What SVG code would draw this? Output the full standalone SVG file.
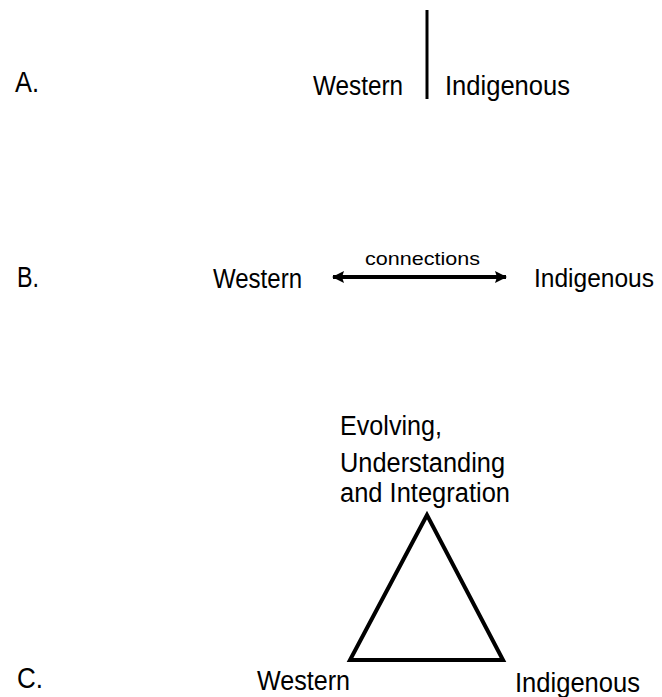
<svg xmlns="http://www.w3.org/2000/svg" width="662" height="697" viewBox="0 0 662 697">
  <style>
    .t { font-family: "Liberation Sans", Arial, sans-serif; font-size: 27px; fill: #000; }
    .lbl { font-family: "Liberation Sans", Arial, sans-serif; font-size: 29px; fill: #000; }
    .small { font-family: "Liberation Sans", Arial, sans-serif; font-size: 19px; fill: #000; }
    .ln { stroke: #000; stroke-width: 3; fill: none; }
  </style>
  <defs>
    <marker id="ah" viewBox="0 0 12 12" refX="11" refY="6" markerWidth="12" markerHeight="12" markerUnits="userSpaceOnUse" orient="auto-start-reverse">
      <path d="M0,0 L12,6 L0,12 L2,6 Z" fill="#000"/>
    </marker>
  </defs>
  <rect width="662" height="697" fill="#fff"/>

  <g id="labels">
    <text class="lbl" x="15" y="92" textLength="24" lengthAdjust="spacingAndGlyphs">A.</text>
    <text class="lbl" x="17" y="287" textLength="22" lengthAdjust="spacingAndGlyphs">B.</text>
    <text class="lbl" x="17" y="688" textLength="26" lengthAdjust="spacingAndGlyphs">C.</text>
  </g>

  <g id="a-western"><text class="t" x="313" y="95" textLength="90" lengthAdjust="spacingAndGlyphs">Western</text></g>
  <g id="a-indigenous"><text class="t" x="445" y="95" textLength="125" lengthAdjust="spacingAndGlyphs">Indigenous</text></g>

  <g id="b-western"><text class="t" x="213" y="288" textLength="89" lengthAdjust="spacingAndGlyphs">Western</text></g>
  <g id="b-indigenous"><text class="t" x="534" y="287" style="font-size:25px" textLength="120" lengthAdjust="spacingAndGlyphs">Indigenous</text></g>

  <g id="c-top">
    <text class="t" x="340" y="435" textLength="102" lengthAdjust="spacingAndGlyphs">Evolving,</text>
    <text class="t" x="340" y="472" textLength="165" lengthAdjust="spacingAndGlyphs">Understanding</text>
    <text class="t" x="340" y="502" textLength="170" lengthAdjust="spacingAndGlyphs">and Integration</text>
  </g>
  <g id="c-western"><text class="t" x="257" y="690" textLength="93" lengthAdjust="spacingAndGlyphs">Western</text></g>
  <g id="c-indigenous"><text class="t" x="515" y="692" textLength="125" lengthAdjust="spacingAndGlyphs">Indigenous</text></g>

  <g id="connectors">
    <line class="ln" x1="427" y1="10" x2="427" y2="99"/>
    <line x1="333" y1="277" x2="506" y2="277" stroke="#000" stroke-width="4" marker-start="url(#ah)" marker-end="url(#ah)"/>
    <text class="small" x="365" y="265" textLength="115" lengthAdjust="spacingAndGlyphs">connections</text>
    <polygon points="427,515 350,660 503,660" fill="none" stroke="#000" stroke-width="4" stroke-linejoin="miter"/>
  </g>
</svg>
